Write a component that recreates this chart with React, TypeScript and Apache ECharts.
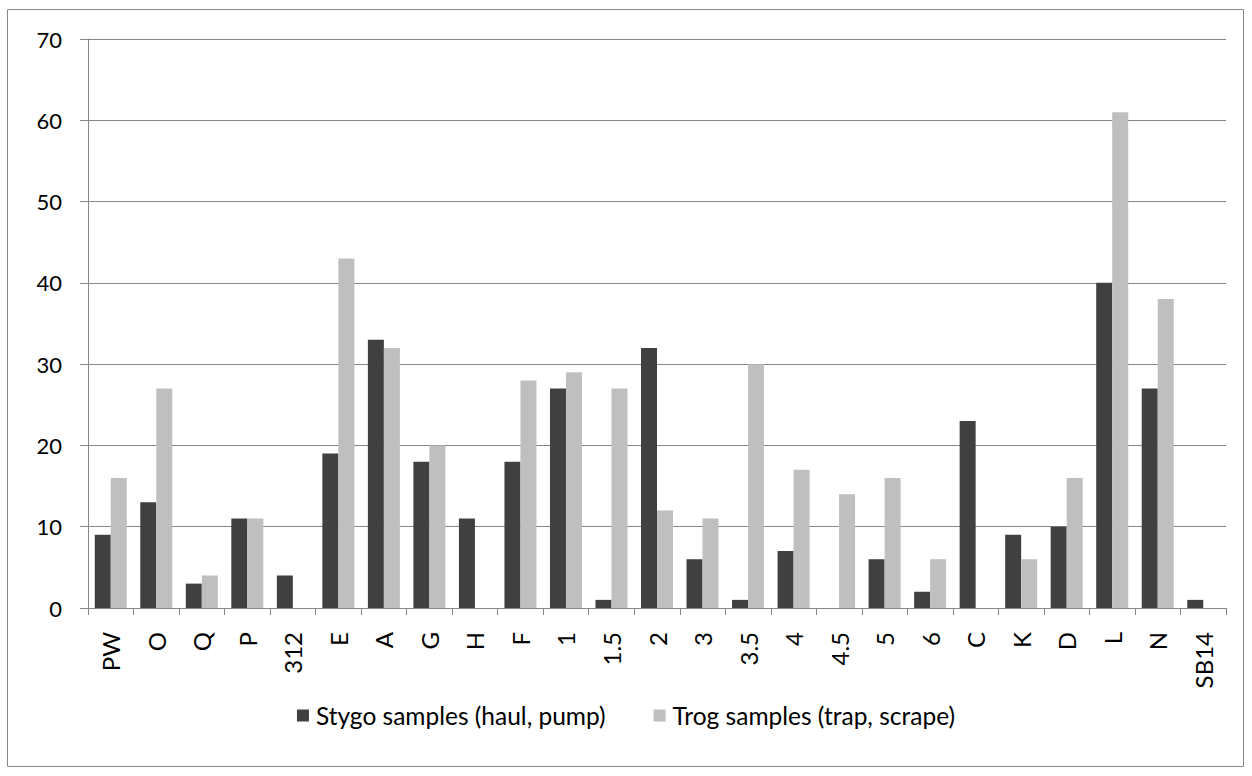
import React, { useEffect, useRef } from "react";
import * as echarts from "echarts";

const categories = ["PW", "O", "Q", "P", "312", "E", "A", "G", "H", "F", "1", "1.5", "2", "3", "3.5", "4", "4.5", "5", "6", "C", "K", "D", "L", "N", "SB14"];
const stygo = [9, 13, 3, 11, 4, 19, 33, 18, 11, 18, 27, 1, 32, 6, 1, 7, 0, 6, 2, 23, 9, 10, 40, 27, 1];
const trog = [16, 27, 4, 11, 0, 43, 32, 20, 0, 28, 29, 27, 12, 11, 30, 17, 14, 16, 6, 0, 6, 16, 61, 38, 0];
const seriesNames = ["Stygo samples (haul, pump)", "Trog samples (trap, scrape)"];

const FONT = "Lato, 'Open Sans', sans-serif";

export default function App() {
  const ref = useRef<HTMLDivElement>(null);
  useEffect(() => {
    const chart = echarts.init(ref.current!, null, { renderer: "svg" });
    chart.setOption({
      animation: false,
      backgroundColor: "#fff",
      graphic: [
        {
          type: "rect",
          shape: { x: 7.5, y: 9.5, width: 1236, height: 757 },
          style: { fill: "none", stroke: "#868686", lineWidth: 1 },
          silent: true,
        },
      ],
      grid: { left: 88, right: 26, top: 39, bottom: 168, containLabel: false },
      legend: {
        top: 698,
        left: "center",
        itemWidth: 12,
        itemHeight: 12,
        itemGap: 48,
        icon: "rect",
        textStyle: { fontFamily: FONT, fontSize: 24.5, color: "#000", padding: [0, 0, 0, 2] },
        data: seriesNames,
      },
      xAxis: {
        type: "category",
        data: categories,
        axisLine: { lineStyle: { color: "#868686", width: 1 } },
        axisTick: { show: true, length: 7, alignWithLabel: false, lineStyle: { color: "#868686" } },
        axisLabel: { rotate: 90, fontFamily: FONT, fontSize: 24, color: "#000", margin: 24, interval: 0 },
      },
      yAxis: {
        type: "value",
        min: 0,
        max: 70,
        interval: 10,
        axisLine: { show: true, lineStyle: { color: "#868686" } },
        axisTick: { show: true, length: 8, lineStyle: { color: "#868686" } },
        splitLine: { lineStyle: { color: "#868686", width: 1 } },
        axisLabel: { fontFamily: FONT, fontSize: 22, color: "#000", margin: 26 },
      },
      series: [
        {
          name: seriesNames[0],
          type: "bar",
          data: stygo,
          barWidth: 16,
          barGap: "0%",
          itemStyle: { color: "#404040" },
        },
        {
          name: seriesNames[1],
          type: "bar",
          data: trog,
          barWidth: 16,
          barGap: "0%",
          itemStyle: { color: "#BFBFBF" },
        },
      ],
    });
    return () => chart.dispose();
  }, []);
  return <div ref={ref} style={{ width: 1252, height: 776, position: "absolute", left: 0, top: 0 }} />;
}
